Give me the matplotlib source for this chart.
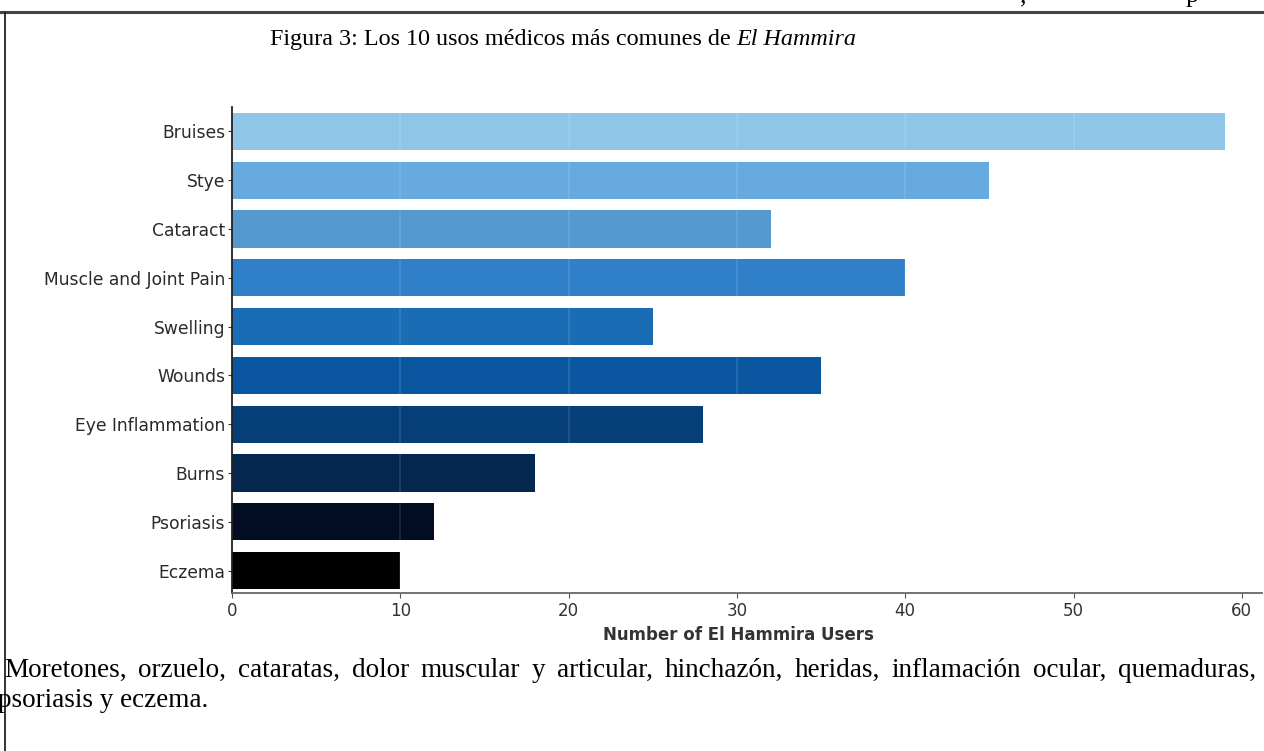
import matplotlib
matplotlib.use("Agg")
import matplotlib.pyplot as plt
import numpy as np

# ---- data ----
categories = ["Bruises", "Stye", "Cataract", "Muscle and Joint Pain", "Swelling",
              "Wounds", "Eye Inflammation", "Burns", "Psoriasis", "Eczema"]
users = [59, 45, 32, 40, 25, 35, 28, 18, 12, 10]
x_ticks = [0, 10, 20, 30, 40, 50, 60]

title_plain = "Figura 3: Los 10 usos médicos más comunes de "
title_italic = "El Hammira"
x_label = "Number of El Hammira Users"
caption_line1 = ("Moretones, orzuelo, cataratas, dolor muscular y articular, hinchazón, "
                 "heridas, inflamación ocular, quemaduras,")
caption_line2 = "psoriasis y eczema."

# ---- style ----
bar_colors = ["#8fc6e8", "#67aadf", "#5499d0", "#2f80c8", "#1a6db5",
              "#0a56a0", "#063f78", "#042750", "#020d24", "#000000"]

W, H = 1264, 751
fig = plt.figure(figsize=(W / 100, H / 100), dpi=100)
fig.patch.set_facecolor("white")

def fx(px):
    return px / W

def fy(py):
    return 1 - py / H

# axes placement (pixels)
ax_l, ax_r, ax_t, ax_b = 232, 1262, 107, 593
ax = fig.add_axes([fx(ax_l), fy(ax_b), (ax_r - ax_l) / W, (ax_b - ax_t) / H])

ypos = np.arange(len(categories))
ax.barh(ypos, users, height=0.76, color=bar_colors, zorder=2)
ax.set_yticks(ypos)
ax.set_yticklabels(categories, fontsize=12.3, color="#2a2a2a", family="DejaVu Sans")
ax.set_ylim(9.46, -0.5)
ax.set_xlim(0, 61.2)
ax.set_xticks(x_ticks)
ax.set_xticklabels([str(t) for t in x_ticks], fontsize=12, color="#333333")

# faint grid lines visible only over the bars
for t in x_ticks[1:-1]:
    ax.axvline(t, color="white", alpha=0.12, lw=1.2, zorder=3)

for s in ["top", "right"]:
    ax.spines[s].set_visible(False)
ax.spines["left"].set_color("#222222")
ax.spines["left"].set_linewidth(1.3)
ax.spines["bottom"].set_color("#666666")
ax.spines["bottom"].set_linewidth(1.3)
ax.tick_params(axis="y", length=3, pad=2, color="#333333")
ax.tick_params(axis="x", length=3.5, pad=3, color="#555555")

ax.set_xlabel(x_label, fontsize=12, fontweight="bold", color="#333333")
ax.xaxis.set_label_coords((738 - ax_l) / (ax_r - ax_l), -(626 - ax_b) / (ax_b - ax_t))

# ---- page frame ----
fig.add_artist(plt.Line2D([0, 1], [fy(12), fy(12)], color="#444444", lw=2.2,
                          transform=fig.transFigure))
fig.add_artist(plt.Line2D([fx(4.5), fx(4.5)], [fy(12), 0], color="#222222", lw=1.3,
                          transform=fig.transFigure))

# cut-off text fragments above the frame (as in the scanned page)
serif = "Liberation Serif"
fig.text(fx(1020), fy(2), ",", fontsize=19, family=serif, va="baseline", color="black")
fig.text(fx(1186), fy(2), "p", fontsize=19, family=serif, va="baseline", color="black")

# ---- title ----
fig.canvas.draw()
renderer = fig.canvas.get_renderer()
title_size = 17.35
t1 = fig.text(fx(270), fy(45), title_plain, fontsize=title_size, family=serif,
              va="baseline", ha="left", color="black")
bb = t1.get_window_extent(renderer)
fig.text(bb.x1 / W, fy(45), title_italic, fontsize=title_size, family=serif,
         style="italic", va="baseline", ha="left", color="black")

# ---- caption, justified first line ----
cap_size = 19.5
words = caption_line1.split(" ")
left_px, right_px = 4, 1256
widths = []
for w in words:
    tt = fig.text(0, 0, w, fontsize=cap_size, family=serif)
    widths.append(tt.get_window_extent(renderer).width)
    tt.remove()
gap = (right_px - left_px - sum(widths)) / (len(words) - 1)
x = left_px
for w, wd in zip(words, widths):
    fig.text(fx(x), fy(677), w, fontsize=cap_size, family=serif, va="baseline",
             ha="left", color="black")
    x += wd + gap
fig.text(fx(-2), fy(707), caption_line2, fontsize=cap_size, family=serif,
         va="baseline", ha="left", color="black")

fig.savefig("out.png", dpi=100, facecolor="white")
